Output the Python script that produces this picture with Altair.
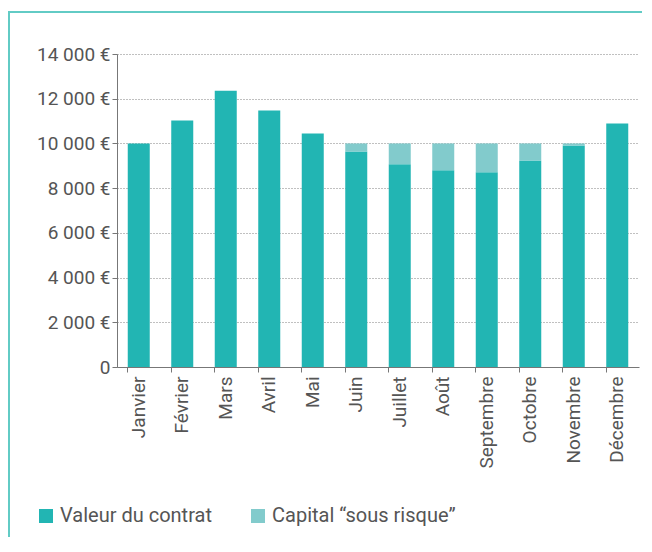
import altair as alt
import pandas as pd

months = ["Janvier", "Février", "Mars", "Avril", "Mai", "Juin", "Juillet",
          "Août", "Septembre", "Octobre", "Novembre", "Décembre"]
valeur = [10000, 11020, 12360, 11470, 10440, 9640, 9070, 8800, 8710, 9240, 9910, 10890]
capital = [0, 0, 0, 0, 0, 360, 930, 1200, 1290, 760, 90, 0]
series = ["Valeur du contrat", "Capital “sous risque”"]
colors = ["#22B5B3", "#82CBCC"]
y_ticks = [0, 2000, 4000, 6000, 8000, 10000, 12000, 14000]

rows = []
for m, v, c in zip(months, valeur, capital):
    rows.append({"mois": m, "serie": series[0], "val": v, "ord": 0})
    rows.append({"mois": m, "serie": series[1], "val": c, "ord": 1})
df = pd.DataFrame(rows)

FONT = "Roboto"
TXT = "#555555"

bars = alt.Chart(df).mark_bar(size=22).encode(
    x=alt.X("mois:N", sort=months, title=None,
            scale=alt.Scale(paddingInner=0.49, paddingOuter=0.245),
            axis=alt.Axis(labelAngle=-90, labelFontSize=19, labelFont=FONT,
                          labelColor=TXT, domainColor="#777777", tickColor="#777777",
                          tickSize=5, bandPosition=0, labelPadding=4, grid=False,
                          labelBaseline="middle", labelAlign="right")),
    y=alt.Y("val:Q", stack="zero", title=None,
            scale=alt.Scale(domain=[0, 14000], nice=False),
            axis=alt.Axis(values=y_ticks, labelFontSize=19, labelFont=FONT,
                          labelColor=TXT, domainColor="#777777", tickColor="#777777",
                          tickSize=5, labelPadding=2,
                          labelExpr="datum.value == 0 ? '0' : replace(format(datum.value, ','), ',', ' ') + ' €'",
                          grid=True, gridColor="#808080", gridDash=[1, 2], gridWidth=1)),
    color=alt.Color("serie:N", sort=series,
                    scale=alt.Scale(domain=series, range=colors),
                    legend=alt.Legend(title=None, orient="none", legendX=-81, legendY=452,
                                      direction="horizontal", symbolType="square",
                                      symbolSize=196, symbolStrokeWidth=0, symbolOpacity=1,
                                      labelFontSize=20, labelFont=FONT, labelColor=TXT,
                                      columnPadding=36, labelOffset=4, labelLimit=300)),
    order=alt.Order("ord:Q"),
)

frame_data = alt.Data(values=[{"a": 1}])
left_line = alt.Chart(frame_data).mark_rule(color="#62CBC5", strokeWidth=2).encode(
    x=alt.value(-108), y=alt.value(-43), y2=alt.value(600))
top_line = alt.Chart(frame_data).mark_rule(color="#62CBC5", strokeWidth=2).encode(
    x=alt.value(-109), x2=alt.value(600), y=alt.value(-42))

chart = alt.layer(bars, left_line, top_line).properties(
    width=522, height=313,
    autosize=alt.AutoSizeParams(type="none"),
    padding={"left": 109, "top": 46, "right": 3, "bottom": 170},
).configure_view(stroke=None)

chart.save("out.html", embed_options={"renderer": "svg", "actions": False})
